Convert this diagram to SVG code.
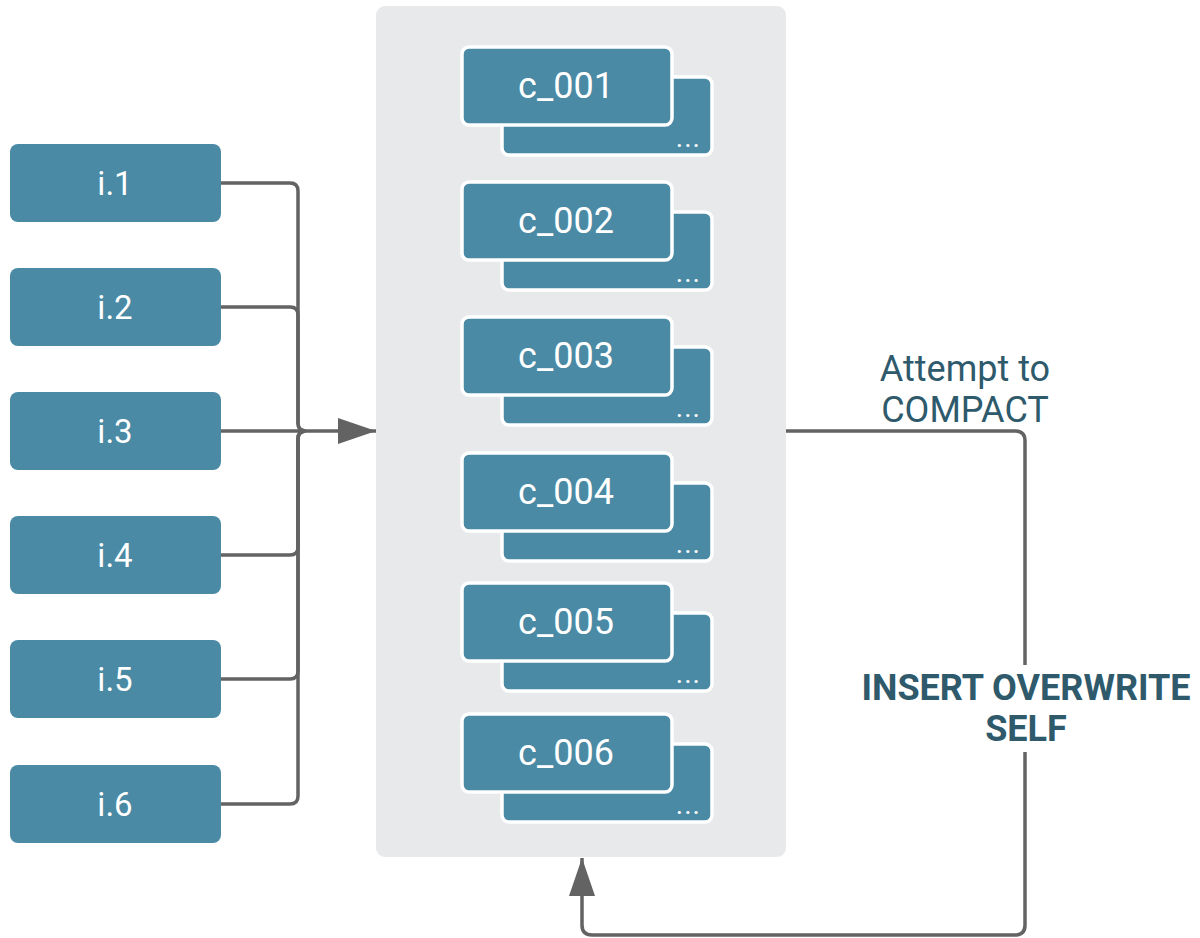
<svg xmlns="http://www.w3.org/2000/svg" width="1200" height="938" viewBox="0 0 1200 938">
<style>
.inp{fill:#4a8aa5}
.card{fill:#4a8aa5;stroke:#fff;stroke-width:3.5}
.lbl{font-family:Roboto,"Liberation Sans",sans-serif;fill:#fff;text-anchor:middle}
.dots{font-family:Roboto,"Liberation Sans",sans-serif;fill:#fff;font-size:28px;letter-spacing:1px;text-anchor:end}
.conn{fill:none;stroke:#636363;stroke-width:3.5}
.note{font-family:Roboto,"Liberation Sans",sans-serif;fill:#2e5a6c;text-anchor:middle;font-size:36px}
</style>
<defs>
<marker id="ah" markerUnits="userSpaceOnUse" markerWidth="38" markerHeight="26" refX="38" refY="13" orient="auto">
<path d="M0,0 L38,13 L0,26 Z" fill="#636363"/>
</marker>
</defs>
<rect id="container" x="376" y="6" width="410" height="851" rx="9" fill="#e8e9eb"/>
<g id="connectors">
<path class="conn" d="M221,183 H290 Q298,183 298,191 V423 Q298,431 306,431"/>
<path class="conn" d="M221,307 H290 Q298,307 298,315 V423 Q298,431 306,431"/>
<path class="conn" d="M221,555 H290 Q298,555 298,547 V439 Q298,431 306,431"/>
<path class="conn" d="M221,679 H290 Q298,679 298,671 V439 Q298,431 306,431"/>
<path class="conn" d="M221,804 H290 Q298,804 298,796 V439 Q298,431 306,431"/>
<path class="conn" d="M221,431 H376" marker-end="url(#ah)"/>
<path class="conn" d="M786,431 H1015 Q1025,431 1025,441 V665"/>
<path class="conn" d="M1025,752 V925 Q1025,935 1015,935 H592 Q582,935 582,925 V858" marker-end="url(#ah)"/>
</g>
<g id="i1"><rect class="inp" x="10" y="144" width="211" height="78" rx="8"/><text class="lbl" x="115" y="195" font-size="33">i.1</text></g>
<g id="i2"><rect class="inp" x="10" y="268" width="211" height="78" rx="8"/><text class="lbl" x="115" y="319" font-size="33">i.2</text></g>
<g id="i3"><rect class="inp" x="10" y="392" width="211" height="78" rx="8"/><text class="lbl" x="115" y="443" font-size="33">i.3</text></g>
<g id="i4"><rect class="inp" x="10" y="516" width="211" height="78" rx="8"/><text class="lbl" x="115" y="567" font-size="33">i.4</text></g>
<g id="i5"><rect class="inp" x="10" y="640" width="211" height="78" rx="8"/><text class="lbl" x="115" y="691" font-size="33">i.5</text></g>
<g id="i6"><rect class="inp" x="10" y="765" width="211" height="78" rx="8"/><text class="lbl" x="115" y="816" font-size="33">i.6</text></g>
<g id="c1"><rect class="card" x="502" y="77" width="210" height="78" rx="7"/><text class="dots" x="701" y="147">...</text><rect class="card" x="462" y="47" width="210" height="78" rx="7"/><text class="lbl" x="566" y="98" font-size="36">c_001</text></g>
<g id="c2"><rect class="card" x="502" y="212" width="210" height="78" rx="7"/><text class="dots" x="701" y="282">...</text><rect class="card" x="462" y="182" width="210" height="78" rx="7"/><text class="lbl" x="566" y="233" font-size="36">c_002</text></g>
<g id="c3"><rect class="card" x="502" y="347" width="210" height="78" rx="7"/><text class="dots" x="701" y="417">...</text><rect class="card" x="462" y="317" width="210" height="78" rx="7"/><text class="lbl" x="566" y="368" font-size="36">c_003</text></g>
<g id="c4"><rect class="card" x="502" y="483" width="210" height="78" rx="7"/><text class="dots" x="701" y="553">...</text><rect class="card" x="462" y="453" width="210" height="78" rx="7"/><text class="lbl" x="566" y="504" font-size="36">c_004</text></g>
<g id="c5"><rect class="card" x="502" y="613" width="210" height="78" rx="7"/><text class="dots" x="701" y="683">...</text><rect class="card" x="462" y="583" width="210" height="78" rx="7"/><text class="lbl" x="566" y="634" font-size="36">c_005</text></g>
<g id="c6"><rect class="card" x="502" y="744" width="210" height="78" rx="7"/><text class="dots" x="701" y="814">...</text><rect class="card" x="462" y="714" width="210" height="78" rx="7"/><text class="lbl" x="566" y="765" font-size="36">c_006</text></g>
<g id="label-compact"><text class="note" x="965" y="381">Attempt to</text><text class="note" x="965" y="422">COMPACT</text></g>
<g id="label-insert"><text class="note" font-weight="bold" x="1026" y="700">INSERT OVERWRITE</text><text class="note" font-weight="bold" x="1026" y="741">SELF</text></g>
</svg>
